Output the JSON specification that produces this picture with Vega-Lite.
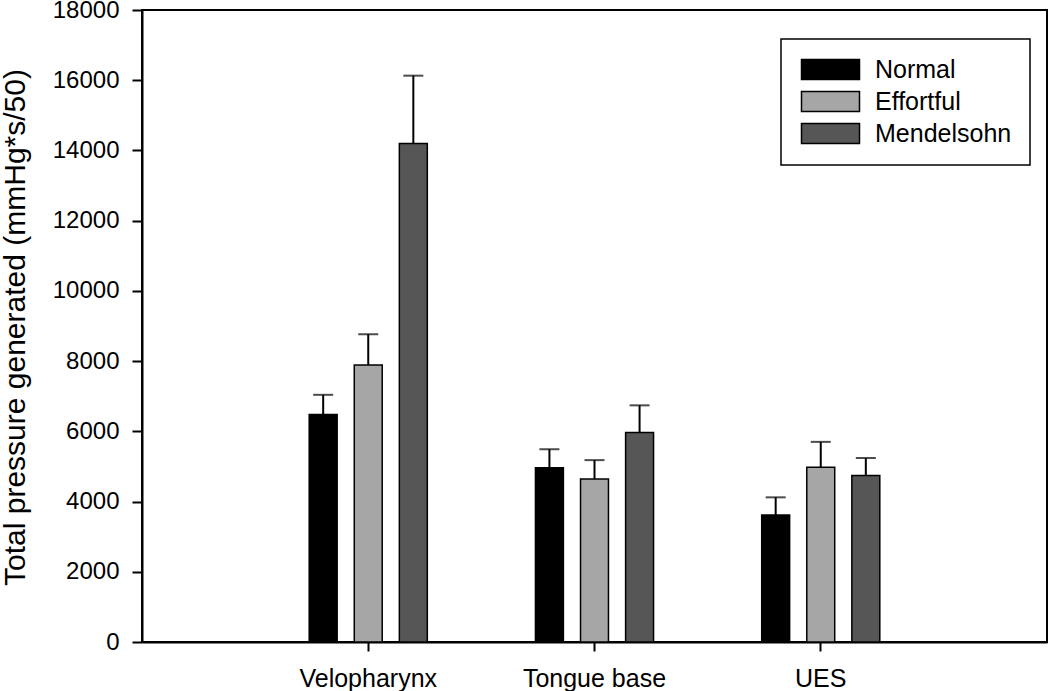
{
  "$schema": "https://vega.github.io/schema/vega-lite/v6.json",
  "width": 905,
  "height": 632,
  "autosize": "none",
  "padding": {"left": 142, "top": 10, "right": 3, "bottom": 49},
  "background": "white",
  "config": {
    "font": "Liberation Sans",
    "view": {"stroke": "black", "strokeWidth": 2},
    "axis": {"grid": false, "domainColor": "black", "domainWidth": 2, "tickColor": "black", "tickWidth": 2, "labelColor": "black", "titleColor": "black"},
    "legend": {"strokeColor": "black", "strokeWidth": 1.5}
  },
  "data": {
    "values": [
      {"region": "Velopharynx", "condition": "Normal", "mean": 6480, "upper": 7040},
      {"region": "Velopharynx", "condition": "Effortful", "mean": 7890, "upper": 8765},
      {"region": "Velopharynx", "condition": "Mendelsohn", "mean": 14200, "upper": 16130},
      {"region": "Tongue base", "condition": "Normal", "mean": 4960, "upper": 5490},
      {"region": "Tongue base", "condition": "Effortful", "mean": 4640, "upper": 5180},
      {"region": "Tongue base", "condition": "Mendelsohn", "mean": 5970, "upper": 6740},
      {"region": "UES", "condition": "Normal", "mean": 3620, "upper": 4120},
      {"region": "UES", "condition": "Effortful", "mean": 4980, "upper": 5700},
      {"region": "UES", "condition": "Mendelsohn", "mean": 4740, "upper": 5240}
    ]
  },
  "encoding": {
    "x": {
      "field": "region", "type": "nominal",
      "sort": ["Velopharynx", "Tongue base", "UES"],
      "scale": {"paddingInner": 0.478, "paddingOuter": 0.739},
      "title": null,
      "axis": {"labelAngle": 0, "labelFontSize": 25, "tickSize": 9, "labelPadding": 15, "domainWidth": 2}
    },
    "xOffset": {
      "field": "condition", "type": "nominal",
      "sort": ["Normal", "Effortful", "Mendelsohn"],
      "scale": {"paddingInner": 0.38, "paddingOuter": 0}
    }
  },
  "layer": [
    {
      "mark": {"type": "bar", "stroke": "black", "strokeWidth": 1.5},
      "encoding": {
        "y": {
          "field": "mean", "type": "quantitative",
          "scale": {"domain": [0, 18000], "nice": false},
          "title": "Total pressure generated (mmHg*s/50)",
          "axis": {
            "values": [0, 2000, 4000, 6000, 8000, 10000, 12000, 14000, 16000, 18000],
            "format": "d",
            "labelFontSize": 24, "tickSize": 10, "labelPadding": 13,
            "titleFontSize": 30, "titleFontWeight": "normal",
            "titleX": -118, "titleY": 317, "titleAngle": -90,
            "titleAlign": "center", "titleBaseline": "alphabetic"
          }
        },
        "color": {
          "field": "condition", "type": "nominal",
          "sort": ["Normal", "Effortful", "Mendelsohn"],
          "scale": {"domain": ["Normal", "Effortful", "Mendelsohn"], "range": ["#000000", "#a6a6a6", "#565656"]},
          "legend": {
            "title": null,
            "orient": "none", "legendX": 639, "legendY": 29,
            "padding": 18,
            "symbolType": "M-1,-1H4.8V1H-1Z",
            "symbolSize": 400,
            "symbolStrokeColor": "black", "symbolStrokeWidth": 1.5,
            "symbolOpacity": 1,
            "labelFontSize": 25, "labelOffset": 51, "labelColor": "black",
            "rowPadding": 5
          }
        }
      }
    },
    {
      "mark": {"type": "rule", "strokeWidth": 2, "color": "black"},
      "encoding": {
        "y": {"field": "mean", "type": "quantitative"},
        "y2": {"field": "upper"}
      }
    },
    {
      "mark": {"type": "tick", "thickness": 2, "size": 20, "color": "black"},
      "encoding": {
        "y": {"field": "upper", "type": "quantitative"}
      }
    }
  ]
}
